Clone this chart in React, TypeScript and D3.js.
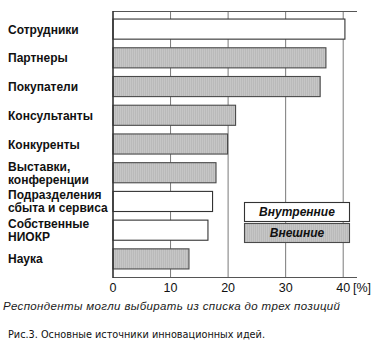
import React, { useRef, useEffect } from "react";
import * as d3 from "d3";

// Categories (top to bottom), their shares in % and group (internal / external)
const categories = [
  ["Сотрудники"],
  ["Партнеры"],
  ["Покупатели"],
  ["Консультанты"],
  ["Конкуренты"],
  ["Выставки,", "конференции"],
  ["Подразделения", "сбыта и сервиса"],
  ["Собственные", "НИОКР"],
  ["Наука"],
];
const values = [40.3, 37.0, 36.0, 21.3, 19.9, 17.9, 17.3, 16.5, 13.2];
const groups = ["in", "out", "out", "out", "out", "out", "in", "in", "out"];
const xTicks = [0, 10, 20, 30, 40];
const legendLabels = ["Внутренние", "Внешние"];
const legendGroups = ["in", "out"];
const footnote = "Респонденты могли выбирать из списка до трех позиций";
const caption = "Рис.3. Основные источники инновационных идей.";

const W = 382;
const H = 353;

export default function App() {
  const svgRef = useRef<SVGSVGElement>(null);

  useEffect(() => {
    if (!svgRef.current) return;
    const svg = d3.select(svgRef.current);
    svg.selectAll("*").remove();

    const left = 113, right = 357, top = 11, bottom = 277;

    const x = d3.scaleLinear().domain([0, 42.4]).range([left, right]);
    const y = d3.scaleBand<number>()
      .domain(d3.range(categories.length))
      .range([top, bottom])
      .paddingInner(0.3)
      .paddingOuter(0.28);

    // fine grey texture for "external" bars
    const defs = svg.append("defs");
    const pat = defs.append("pattern")
      .attr("id", "hatch")
      .attr("patternUnits", "userSpaceOnUse")
      .attr("width", 2)
      .attr("height", 2);
    pat.append("rect").attr("width", 2).attr("height", 2).attr("fill", "#c6c6c6");
    pat.append("rect").attr("x", 1).attr("width", 1).attr("height", 2).attr("fill", "#bababa");

    const fillFor = (g: string) => (g === "in" ? "#ffffff" : "url(#hatch)");
    const strokeFor = (g: string) => (g === "in" ? "#333" : "#4a4a4a");

    // grid lines
    svg.append("g")
      .selectAll("line")
      .data(xTicks.slice(1))
      .join("line")
      .attr("x1", d => x(d))
      .attr("x2", d => x(d))
      .attr("y1", top)
      .attr("y2", bottom)
      .attr("stroke", "#7a7a7a")
      .attr("stroke-width", 1);

    // frame top + bottom axis line
    svg.append("line")
      .attr("x1", left).attr("x2", right).attr("y1", top + 0.5).attr("y2", top + 0.5)
      .attr("stroke", "#555");
    svg.append("line")
      .attr("x1", left).attr("x2", right).attr("y1", bottom + 0.5).attr("y2", bottom + 0.5)
      .attr("stroke", "#555");

    // bars
    svg.append("g")
      .selectAll("rect")
      .data(values)
      .join("rect")
      .attr("x", x(0))
      .attr("y", (_, i) => y(i)!)
      .attr("width", d => x(d) - x(0))
      .attr("height", y.bandwidth())
      .attr("fill", (_, i) => fillFor(groups[i]))
      .attr("stroke", (_, i) => strokeFor(groups[i]))
      .attr("stroke-width", 1.1);

    // left axis line
    svg.append("line")
      .attr("x1", left).attr("x2", left).attr("y1", top).attr("y2", bottom + 1)
      .attr("stroke", "#333").attr("stroke-width", 1.6);

    // category labels
    const lab = svg.append("g")
      .attr("font-family", "'Liberation Sans', Arial, sans-serif")
      .attr("font-size", 12)
      .attr("font-weight", "bold")
      .attr("fill", "#111");
    categories.forEach((lines, i) => {
      const cy = y(i)! + y.bandwidth() / 2;
      const t = lab.append("text").attr("x", 8);
      lines.forEach((s, k) => {
        t.append("tspan")
          .attr("x", 8)
          .attr("y", cy + 4.5 + (k - (lines.length - 1) / 2) * 13)
          .text(s);
      });
    });

    // x tick labels
    const tl = svg.append("g")
      .attr("font-family", "'Liberation Sans', Arial, sans-serif")
      .attr("font-size", 12.5)
      .attr("fill", "#111");
    tl.selectAll("text")
      .data(xTicks)
      .join("text")
      .attr("x", d => x(d))
      .attr("y", 292)
      .attr("text-anchor", "middle")
      .text(d => d);
    tl.append("text").attr("x", 353).attr("y", 292).text("[%]");

    // legend
    const lg = svg.append("g");
    legendLabels.forEach((s, i) => {
      const ly = 202 + i * 21;
      lg.append("rect")
        .attr("x", 244.5).attr("y", ly + 0.5)
        .attr("width", 105).attr("height", 19)
        .attr("fill", fillFor(legendGroups[i]))
        .attr("stroke", strokeFor(legendGroups[i]))
        .attr("stroke-width", 1.1);
      lg.append("text")
        .attr("x", 297).attr("y", ly + 14)
        .attr("text-anchor", "middle")
        .attr("font-family", "'Liberation Sans', Arial, sans-serif")
        .attr("font-size", 12)
        .attr("font-weight", "bold")
        .attr("font-style", "italic")
        .attr("fill", "#111")
        .text(s);
    });

    // footnote + caption
    svg.append("text")
      .attr("x", 3).attr("y", 310)
      .attr("font-family", "'Liberation Sans', Arial, sans-serif")
      .attr("font-size", 11.5)
      .attr("font-style", "italic")
      .attr("fill", "#1a1a1a")
      .attr("textLength", 337)
      .text(footnote);
    svg.append("text")
      .attr("x", 8).attr("y", 338)
      .attr("font-family", "'DejaVu Sans', Tahoma, sans-serif")
      .attr("font-size", 10)
      .attr("fill", "#111")
      .attr("textLength", 257)
      .attr("lengthAdjust", "spacingAndGlyphs")
      .text(caption);
  }, []);

  return (
    <svg
      ref={svgRef}
      width={W}
      height={H}
      style={{ position: "absolute", left: 0, top: 0, background: "#fff" }}
    />
  );
}
